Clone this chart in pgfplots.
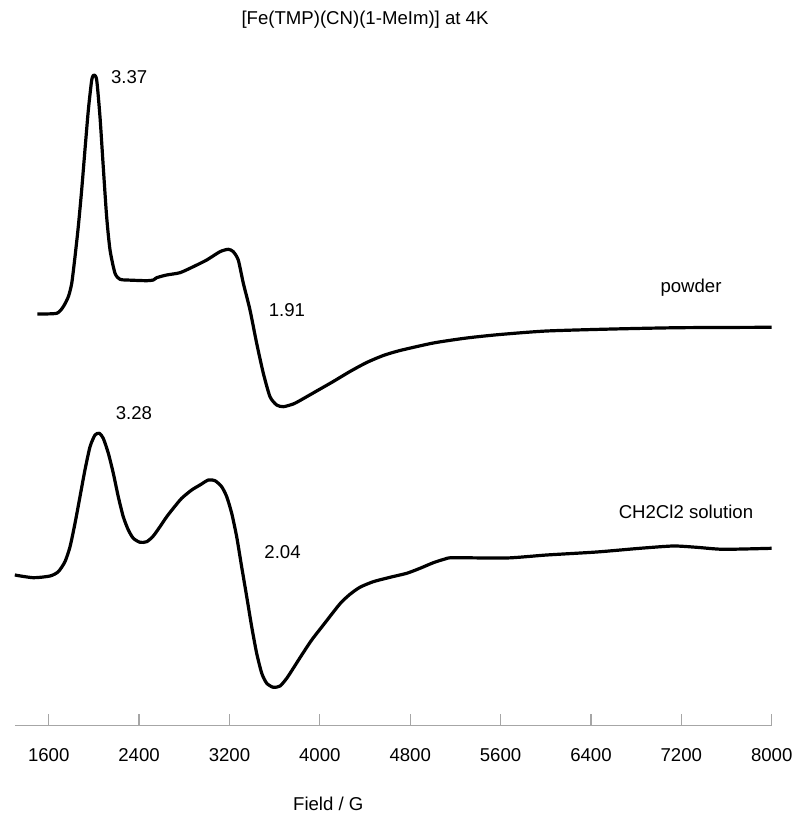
\documentclass[border=0pt]{standalone}
\usepackage{pgfplots}
\pgfplotsset{compat=1.18}
\usepackage{fontspec}
\setmainfont{Liberation Sans}
\newcommand{\lblfont}{\fontsize{9.3}{11}\selectfont}
\begin{document}
\begin{tikzpicture}
\begin{axis}[
  scale only axis,
  width=378.45pt, height=362.85pt,
  xmin=1300, xmax=8000, ymin=0, ymax=725.7,
  axis x line=bottom, axis y line=none,
  x axis line style={-, gray!70, line width=0.6pt},
  xtick={1600,2400,...,8000},
  tick align=inside,
  major tick length=6pt,
  xtick style={gray!70, line width=0.6pt},
  xticklabel style={anchor=center, yshift=-14.65pt, font=\lblfont},
  /pgf/number format/1000 sep={},
  /pgf/number format/assume math mode=true,
  clip=false,
]
\addplot[black, line width=1.6pt, smooth, tension=0.4, line join=round] coordinates {
(1499,411.7) (1671,412.4) (1729,419.0) (1774,429.0) (1804,442.4) (1833,469.0)
(1862,499.0) (1892,535.7) (1921,575.7) (1951,615.7) (1981,645.7) (2001,650.7)
(2025,645.7) (2054,609.0) (2083,559.0) (2113,509.0) (2143,475.7) (2187,452.4)
(2231,446.4) (2290,445.7) (2467,445.0) (2526,445.7) (2556,448.0) (2644,450.7)
(2762,453.0) (2880,459.0) (2999,465.7) (3116,474.0) (3190,476.4) (3234,474.0)
(3278,465.7) (3323,442.4) (3382,415.7) (3441,382.4) (3500,352.4) (3559,329.0)
(3618,320.7) (3677,319.0) (3765,321.7) (3825,325.2) (3972,334.7) (4119,344.2)
(4267,354.2) (4415,363.2) (4562,370.2) (4710,375.2) (5005,382.7) (5300,387.7)
(5595,391.2) (6008,394.7) (6598,396.7) (7188,398.0) (8000,398.4)
};
\addplot[black, line width=1.6pt, smooth, tension=0.4, line join=round] coordinates {
(1300,150.7) (1464,148.0) (1612,149.7) (1685,154.0) (1744,164.0) (1789,179.0)
(1833,202.4) (1877,229.0) (1921,255.7) (1966,279.0) (2010,290.7) (2048,292.4)
(2083,287.4) (2128,272.4) (2172,252.4) (2216,229.0) (2260,209.0) (2305,195.7)
(2349,187.4) (2408,183.4) (2468,184.0) (2526,189.7) (2585,199.0) (2645,209.0)
(2703,217.4) (2777,227.4) (2866,235.7) (2939,240.7) (3013,245.7) (3072,245.0)
(3131,239.0) (3176,229.0) (3220,212.4) (3264,189.0) (3308,159.0) (3353,129.0)
(3397,99.0) (3441,72.4) (3486,52.4) (3530,42.4) (3588,38.4) (3648,39.7)
(3707,47.4) (3765,57.4) (3840,70.7) (3928,85.7) (4031,100.7) (4179,122.0)
(4267,131.4) (4356,138.5) (4473,144.0) (4621,148.4) (4769,152.4) (4887,157.4)
(5005,163.0) (5108,166.7) (5182,168.0) (5654,167.7) (6008,170.7) (6451,173.7)
(6834,177.4) (7129,179.7) (7336,178.4) (7572,176.4) (8000,177.4)
};
\node[font=\lblfont] at (axis cs:2313,649) {3.37};
\node[font=\lblfont] at (axis cs:3709,415.7) {1.91};
\node[font=\lblfont] at (axis cs:2355,312.7) {3.28};
\node[font=\lblfont] at (axis cs:3670,174) {2.04};
\node[font=\lblfont] at (axis cs:7286,438.2) {powder};
\node[font=\lblfont] at (axis cs:7241,213.4) {CH2Cl2 solution};
\node[font=\lblfont] at (axis cs:4400,705.7) {[Fe(TMP)(CN)(1-MeIm)] at 4K};
\node[font=\lblfont] at (axis cs:4075,-78.3) {Field / G};
\coordinate (bbsw) at (axis cs:1169,-99.3);
\coordinate (bbne) at (axis cs:8215,725.7);
\end{axis}
\pgfresetboundingbox
\path[use as bounding box] (bbsw) rectangle (bbne);
\end{tikzpicture}
\end{document}
